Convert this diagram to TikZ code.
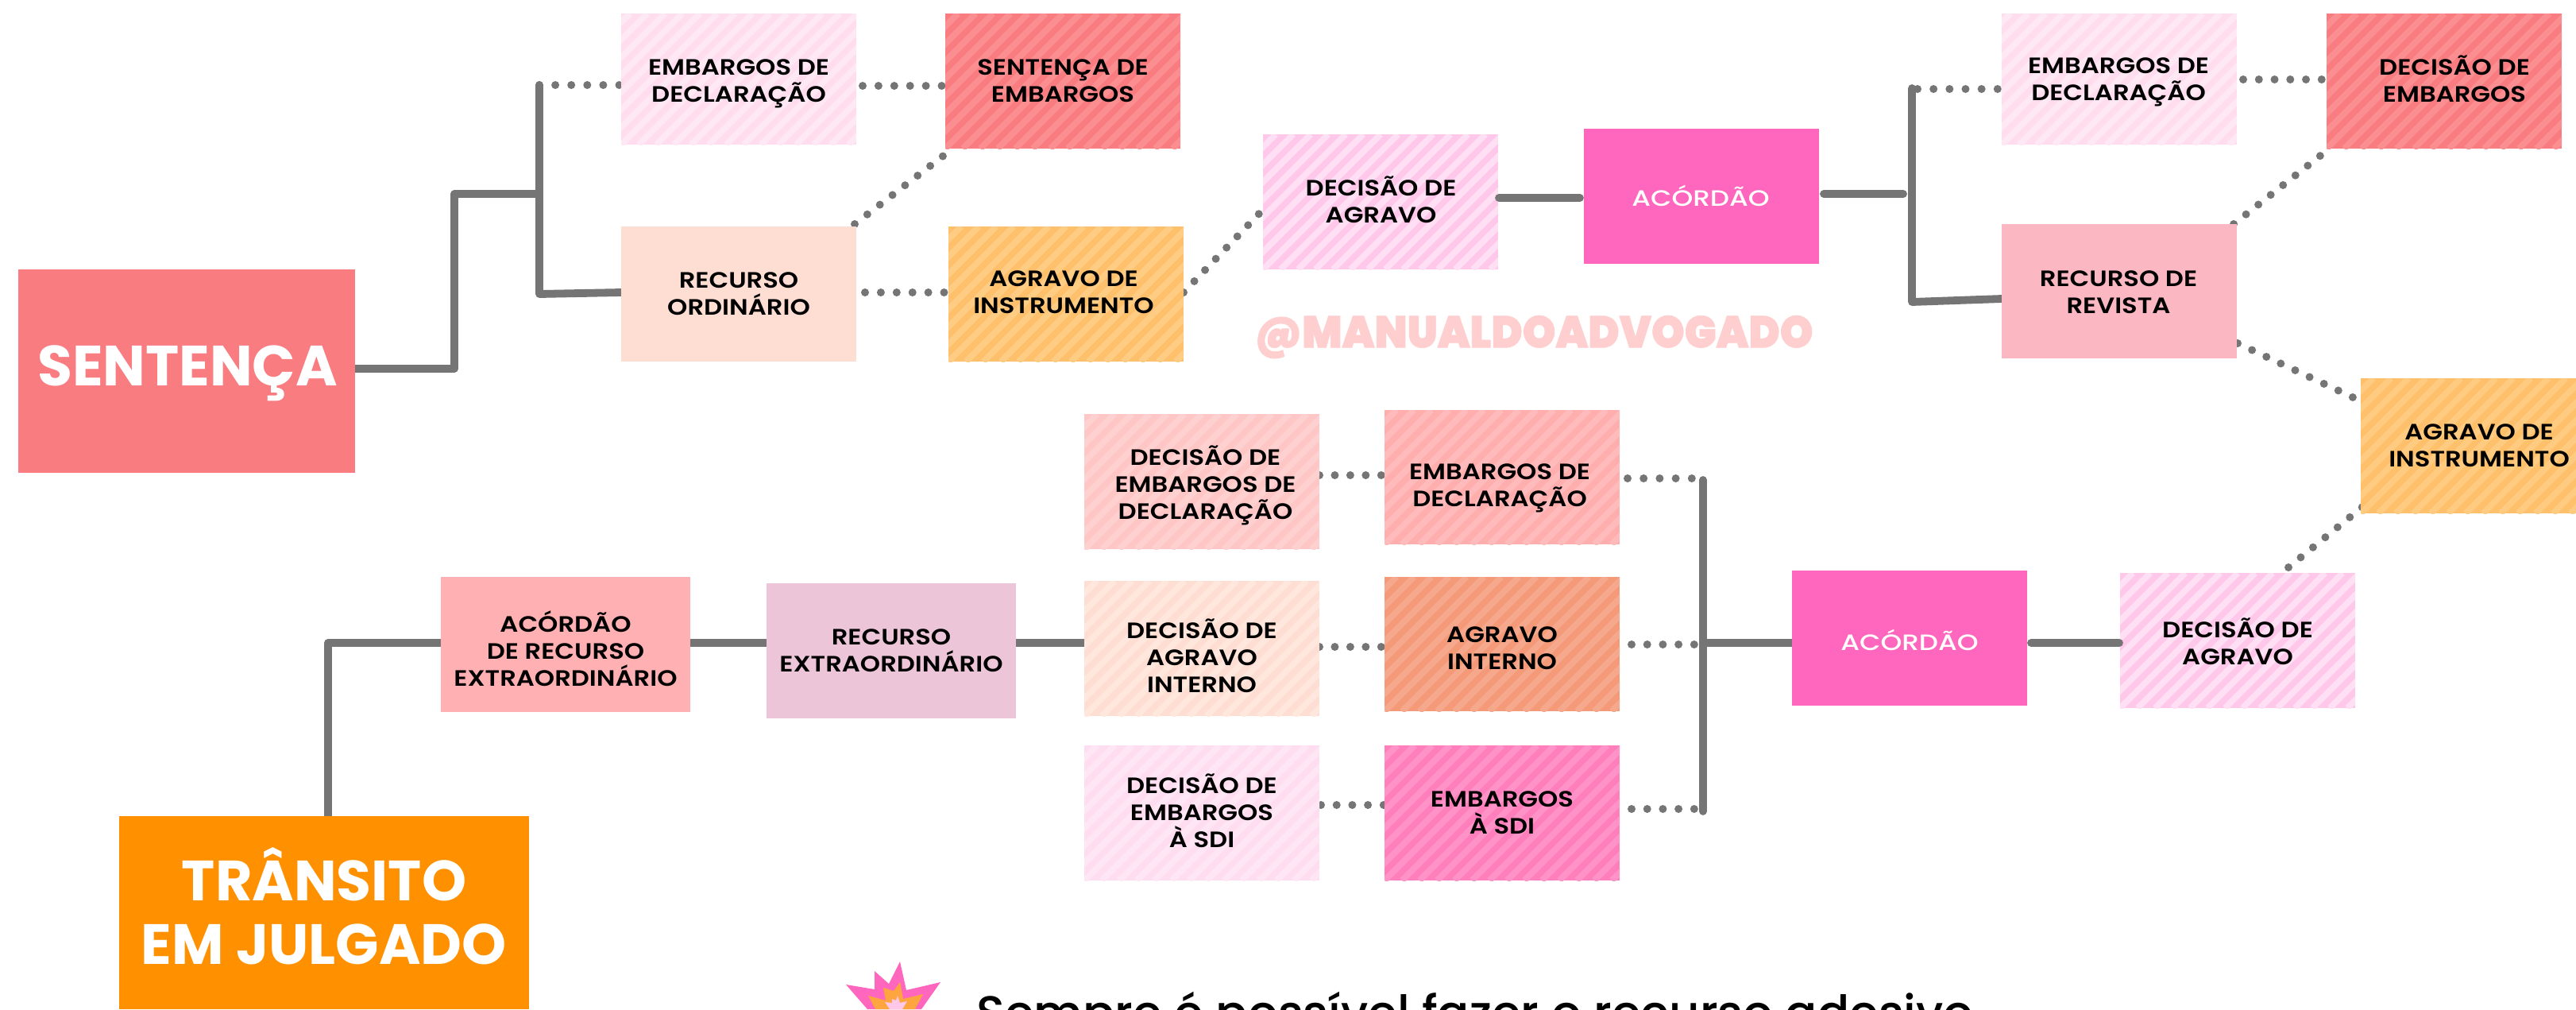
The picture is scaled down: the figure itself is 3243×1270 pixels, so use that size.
\documentclass[tikz,border=0pt]{standalone}
\usepackage{fontspec}
\setmainfont{Poppins}
\newfontfamily\boxf{Poppins SemiBold}[FakeStretch=1.15]
\newfontfamily\medf{Poppins Medium}[FakeStretch=1.22]
\newfontfamily\notef{Poppins Medium}
\newfontfamily\heavyf{Poppins Black}[FakeStretch=0.945,FakeBold=1.2]
\usetikzlibrary{calc}
\pgfdeclarelayer{background}
\pgfsetlayers{background,main}
\definecolor{linegrey}{HTML}{757575}
\newcommand{\defhex}[1]{\definecolor{#1}{HTML}{#1}}
\defhex{F97C81}\defhex{FB8E90}\defhex{FFDDEF}\defhex{FEE8F4}\defhex{FEDDD2}
\defhex{FFC06C}\defhex{FFCC84}\defhex{FFCB80}\defhex{FFC7EA}\defhex{FFDFF3}
\defhex{FF66BE}\defhex{FBB8C2}\defhex{FFC6C6}\defhex{FFD0D0}\defhex{FFE7DE}
\defhex{FFDDF0}\defhex{FFE6F4}\defhex{FFAEAE}\defhex{FFBBBB}\defhex{F49A78}
\defhex{F6A88C}\defhex{FF7FBD}\defhex{FF92C6}\defhex{FFB0B2}\defhex{ECC6D8}
\defhex{FF9000}\defhex{FFCFCF}\defhex{FFA53F}
\newcommand{\Ts}{\rule{0pt}{1.15em}}
\tikzset{
  panel/.style={inner sep=0pt,outer sep=0pt,draw=none},
  centred/.style={inner sep=0pt,outer sep=0pt,align=center,
    execute at end node={\rule[-.45em]{0pt}{.45em}}},
  boxtxt/.style={centred,text=black,font=\boxf\fontsize{14}{17}\selectfont},
  acotxt/.style={centred,text=white,font=\medf\fontsize{14}{17}\selectfont},
  bigtxt/.style={centred,text=white,font=\bfseries\fontsize{35.7}{40}\selectfont},
  solidline/.style={draw=linegrey,line width=4.9pt,line cap=round,line join=round},
  dotline/.style={draw=linegrey,line width=5pt,line cap=round,dash pattern=on 0pt off #1*0.5pt},
}
% name, x1, y1, x2, y2, fill
\newcommand{\flatbox}[6]{%
  \node[panel,fill=#6,minimum width={(#4-#2)*0.5pt},minimum height={(#5-#3)*0.5pt}]
    (#1) at ({(#2+#4)/2},{(#3+#5)/2}) {};}
% name, x1, y1, x2, y2, fill, stripe
\newcommand{\stripebox}[7]{%
  \flatbox{#1}{#2}{#3}{#4}{#5}{#6}%
  \begin{scope}
    \clip (#1.south west) rectangle (#1.north east);
    \pgfmathsetmacro\stripeh{#5-#3}
    \foreach \sx in {-198,-176,...,308} {
      \draw[draw=#7,line width=3.9pt] ({#2+\sx},#5) -- ++(\stripeh,-\stripeh);
    }
  \end{scope}}
\begin{document}
\begin{tikzpicture}[x=0.5pt,y=-0.5pt]
\useasboundingbox (0,0) rectangle (3243,1270);

% ---------- boxes ----------
\flatbox{sent}{23}{339}{447}{595}{F97C81}
\stripebox{emb1}{782}{17}{1078}{182}{FFDDEF}{FEE8F4}
\flatbox{rec1}{782}{285}{1078}{455}{FEDDD2}
\stripebox{semb}{1190}{17}{1486}{187}{F97C81}{FB8E90}
\stripebox{agr1}{1194}{285}{1490}{455}{FFC06C}{FFCC84}
\stripebox{dag1}{1590}{169}{1886}{339}{FFC7EA}{FFDFF3}
\flatbox{ac1}{1994}{162}{2290}{332}{FF66BE}
\stripebox{emb2}{2520}{17}{2816}{182}{FFDDEF}{FEE8F4}
\flatbox{rev}{2520}{282}{2816}{451}{FBB8C2}
\stripebox{demb}{2929}{17}{3225}{187}{F97C81}{FB8E90}
\stripebox{agr2}{2972}{476}{3268}{646}{FFC06C}{FFCB80}
\stripebox{d1}{1365}{521}{1661}{691}{FFC6C6}{FFD0D0}
\stripebox{d2}{1365}{731}{1661}{901}{FEDDD2}{FFE7DE}
\stripebox{d3}{1365}{938}{1661}{1108}{FFDDF0}{FFE6F4}
\stripebox{e1}{1743}{516}{2039}{685}{FFAEAE}{FFBBBB}
\stripebox{e2}{1743}{726}{2039}{895}{F49A78}{F6A88C}
\stripebox{e3}{1743}{938}{2039}{1108}{FF7FBD}{FF92C6}
\flatbox{ac2}{2256}{718}{2552}{888}{FF66BE}
\stripebox{dag2}{2669}{721}{2965}{891}{FFC7EA}{FFDFF3}
\flatbox{acre}{555}{726}{869}{896}{FFB0B2}
\flatbox{recx}{965}{734}{1279}{904}{ECC6D8}
\flatbox{tra}{150}{1027}{666}{1270}{FF9000}

% ---------- junction points ----------
\coordinate (s1) at (572,464);
\coordinate (s2) at (572,244);
\coordinate (s3) at (679,244);
\coordinate (v1a) at (679,107);
\coordinate (v1b) at (679,370);
\coordinate (v2a) at (2407,111);
\coordinate (v2b) at (2407,380);
\coordinate (v2c) at (2407,244);
\coordinate (v3a) at (2144,604);
\coordinate (v3b) at (2144,1021);
\coordinate (v3c) at (2144,809);
\coordinate (t1) at (413,809);

% ---------- connectors under the boxes ----------
\begin{pgfonlayer}{background}
\fill[white] (0,0) rectangle (3243,1270);
\draw[solidline] (s1 -| sent.east) -- (s1) -- (s2) -- (s3);
\draw[solidline] (v1a) -- (v1b) -- ($(rec1.west)+(0,-2)$);
\draw[solidline] ($(ac1.east)+(6,-3)$) -- ($(v2c)+(-11,0)$);
\draw[solidline] (v2a) -- (v2b) -- ($(rev.west)+(0,9.5)$);
\draw[solidline] (v3a) -- (v3b);
\draw[solidline] (v3c) -- (v3c -| ac2.west);
\draw[solidline] (t1 |- tra.north) -- (t1) -- (t1 -| acre.west);
\draw[solidline] (t1 -| acre.east) -- (t1 -| recx.west);
\draw[solidline] (t1 -| recx.east) -- (t1 -| d2.west);
\draw[dotline=20.1] (v1a) -- (v1a -| emb1.west);
\draw[dotline=19.9] ($(emb1.east)+(8,8.5)$) -- ($(semb.west)+(-4,6)$);
\draw[dotline=20] ($(rec1.north east)+(-2,-3)$) -- ($(semb.south west)+(-3,9.5)$);
\draw[dotline=19.9] ($(rec1.east)+(11,-2)$) -- ($(agr1.west)+(-5,-2)$);
\draw[dotline=19.55] ($(agr1.east)+(0,-2)$) -- ($(dag1.west)+(-5,15)$);
\draw[dotline=20.15] ($(v2a)+(7,1)$) -- ($(emb2.west)+(-5,12.5)$);
\draw[dotline=19.75] ($(emb2.east)+(8,.5)$) -- ($(demb.west)+(-6,-2)$);
\draw[dotline=19.8] ($(rev.north east)+(-4,0)$) -- ($(demb.south west)+(-8,9)$);
\draw[dotline=20] ($(rev.east)+(1,65.5)$) -- ($(agr2.west)+(-10,-61)$);
\draw[dotline=19.95] ($(dag2.north)+(64,-7)$) -- ($(agr2.south west)+(2,-8)$);
\draw[dotline=19.45] ($(d1.east)+(0,-8)$) -- ($(e1.west)+(-4,-2.5)$);
\draw[dotline=19.45] ($(d2.east)+(0,-2)$) -- ($(e2.west)+(-4,3.5)$);
\draw[dotline=19.7] ($(d3.east)+(2,-10)$) -- ($(e3.west)+(-1,-10)$);
\draw[dotline=20.2] ($(e1.east)+(10,1.5)$) -- ($(v3a)+(-14,-2)$);
\draw[dotline=19.7] ($(e2.east)+(15,.5)$) -- ($(v3c)+(-11,2)$);
\draw[dotline=19.7] ($(e3.east)+(15,-5)$) -- ($(v3b)+(-11,-3)$);
\end{pgfonlayer}

% ---------- connectors over a box edge ----------
\draw[solidline] ($(dag1.east)+(1,-5)$) -- ($(ac1.west)+(-5,2)$);
\draw[solidline] ($(ac2.east)+(5,6)$) -- ($(dag2.west)+(-1,3)$);

% ---------- texts ----------
\node[bigtxt] (sentt) at (236,460) {\Ts SENTENÇA};
\node[boxtxt] (emb1t) at (930,101.5) {\Ts EMBARGOS DE\\DECLARAÇÃO};
\node[boxtxt] (rec1t) at (930,369.5) {\Ts RECURSO\\ORDINÁRIO};
\node[boxtxt] (sembt) at (1338,102) {\Ts SENTENÇA DE\\EMBARGOS};
\node[boxtxt] (agr1t) at (1339,368) {\Ts AGRAVO DE\\INSTRUMENTO};
\node[boxtxt] (dag1t) at (1738.5,253.5) {\Ts DECISÃO DE\\AGRAVO};
\node[acotxt] (ac1t) at (2141,250) {\Ts ACÓRDÃO};
\node[boxtxt] (emb2t) at (2667,99.5) {\Ts EMBARGOS DE\\DECLARAÇÃO};
\node[boxtxt] (demt) at (3090,102) {\Ts DECISÃO DE\\EMBARGOS};
\node[boxtxt] (revt) at (2667,368) {\Ts RECURSO DE\\REVISTA};
\node[boxtxt] (agr2t) at (3121,561) {\Ts AGRAVO DE\\INSTRUMENTO};
\node[boxtxt] (d1t) at (1517.5,609.5) {\Ts DECISÃO DE\\EMBARGOS DE\\DECLARAÇÃO};
\node[boxtxt] (d2t) at (1513,828) {\Ts DECISÃO DE\\AGRAVO\\INTERNO};
\node[boxtxt] (d3t) at (1513,1022.5) {\Ts DECISÃO DE\\EMBARGOS\\À SDI};
\node[boxtxt] (e1t) at (1888,611) {\Ts EMBARGOS DE\\DECLARAÇÃO};
\node[boxtxt] (e2t) at (1891,816) {\Ts AGRAVO\\INTERNO};
\node[boxtxt] (e3t) at (1891,1023) {\Ts EMBARGOS\\À SDI};
\node[acotxt] (ac2t) at (2404,809) {\Ts ACÓRDÃO};
\node[boxtxt] (dag2t) at (2817,810) {\Ts DECISÃO DE\\AGRAVO};
\node[boxtxt] (acret) at (712,819.5) {\Ts ACÓRDÃO\\DE RECURSO\\EXTRAORDINÁRIO};
\node[boxtxt] (recxt) at (1122,819) {\Ts RECURSO\\EXTRAORDINÁRIO};
\node[bigtxt] (trat) at (408,1148) {\Ts TRÂNSITO\\EM JULGADO};
\node[inner sep=0pt,text=FFCFCF,font=\heavyf\fontsize{28}{34}\selectfont] (mark) at (1931,424) {@MANUALDOADVOGADO};

% ---------- burst ----------
\fill[FF66BE] (1065,1239) -- (1101,1245) -- (1101,1222) -- (1119,1238) -- (1133,1210) -- (1141,1246) -- (1184,1236) -- (1160,1270) -- (1092,1270) -- cycle;
\fill[FFA53F] (1093,1253) -- (1115,1259) -- (1112,1243) -- (1125,1247) -- (1133,1236) -- (1137,1257) -- (1162,1251) -- (1152,1270) -- (1102,1270) -- cycle;
\fill[FFC7EA] (1114,1261) -- (1123,1262) -- (1123,1257) -- (1128,1259) -- (1130,1253) -- (1133,1262) -- (1142,1260) -- (1136,1270) -- (1120,1270) -- cycle;

\node[inner sep=0pt,anchor=base west,text=black,font=\notef\fontsize{29.7}{34}\selectfont] (note) at (1229,1295) {Sempre é possível fazer o recurso adesivo};
\end{tikzpicture}
\end{document}
